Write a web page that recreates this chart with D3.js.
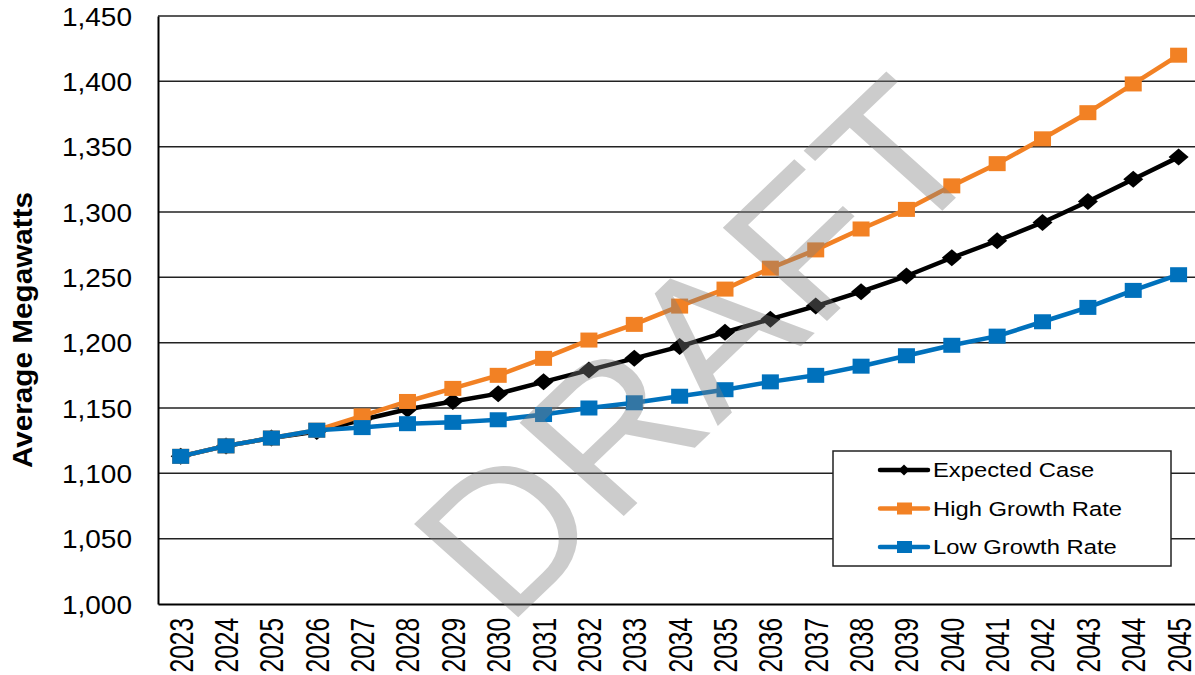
<!DOCTYPE html>
<html>
<head>
<meta charset="utf-8">
<script src="https://cdn.jsdelivr.net/npm/d3@7"></script>
<style>
  body { margin: 0; background: #fff; }
  svg { display: block; font-family: "Liberation Sans", Arial, sans-serif; }
</style>
</head>
<body>
<svg id="chart" width="1195" height="675"></svg>
<script>
const years = d3.range(2023, 2046).map(String);
const expectedCase = [1113, 1121, 1127, 1132, 1141, 1149, 1155, 1161, 1170, 1179, 1188, 1197, 1208, 1218, 1228, 1239, 1251, 1265, 1278, 1292, 1308, 1325, 1342];
const highGrowth = [1113, 1121, 1127, 1133, 1144, 1155, 1165, 1175, 1188, 1202, 1214, 1228, 1241, 1257, 1271, 1287, 1302, 1320, 1337, 1356, 1376, 1398, 1420];
const lowGrowth = [1113, 1121, 1127, 1133, 1135, 1138, 1139, 1141, 1145, 1150, 1154, 1159, 1164, 1170, 1175, 1182, 1190, 1198, 1205, 1216, 1227, 1240, 1252];
const yTicks = [1000, 1050, 1100, 1150, 1200, 1250, 1300, 1350, 1400, 1450];

const series = [
  { name: "Expected Case", values: expectedCase, color: "#000000", marker: "diamond" },
  { name: "High Growth Rate", values: highGrowth, color: "#f28124", marker: "square" },
  { name: "Low Growth Rate", values: lowGrowth, color: "#0071bc", marker: "square" },
];

const svg = d3.select("#chart");
const plotLeft = 158, plotTop = 16, plotBottom = 604;
const bandW = 45.36;

const x = d3.scaleBand().domain(years).range([plotLeft, plotLeft + bandW * years.length]);
const y = d3.scaleLinear().domain([1000, 1450]).range([plotBottom, plotTop]);

// gridlines
svg.append("g")
  .selectAll("line")
  .data(yTicks.slice(1))
  .enter()
  .append("line")
  .attr("x1", plotLeft)
  .attr("x2", 1195)
  .attr("y1", (d) => y(d))
  .attr("y2", (d) => y(d))
  .attr("stroke", "#222")
  .attr("stroke-width", 1.5);

// y axis (labels slightly widened like the original)
const yAxis = svg.append("g")
  .attr("transform", `translate(${plotLeft},0)`)
  .call(d3.axisLeft(y).tickValues(yTicks).tickFormat(d3.format(",")).tickSize(0));
yAxis.select(".domain").attr("stroke", "#000").attr("stroke-width", 2);
yAxis.selectAll("text")
  .attr("font-size", 25)
  .attr("fill", "#000")
  .attr("font-family", "Liberation Sans, Arial, sans-serif")
  .attr("x", -26 / 1.12)
  .attr("dy", "0.36em")
  .attr("transform", "scale(1.12,1)");

// x axis
const xAxis = svg.append("g")
  .attr("transform", `translate(0,${plotBottom})`)
  .call(d3.axisBottom(x).tickSize(0).tickPadding(0));
xAxis.select(".domain").attr("stroke", "#000").attr("stroke-width", 2);
xAxis.selectAll("text")
  .attr("font-size", 24.5)
  .attr("fill", "#000")
  .attr("font-family", "Liberation Sans, Arial, sans-serif")
  .attr("text-anchor", "end")
  .attr("transform", "rotate(-90) scale(1,1.36)")
  .attr("x", -14)
  .attr("y", 0)
  .attr("dy", "0.358em");

// y label
svg.append("text")
  .attr("transform", "translate(32,330) rotate(-90) scale(1.1,1)")
  .attr("text-anchor", "middle")
  .attr("font-size", 27)
  .attr("font-weight", "bold")
  .attr("fill", "#000")
  .text("Average Megawatts");

const cx = (i) => x(years[i]) + x.bandwidth() / 2;
const line = d3.line().x((d, i) => cx(i)).y((d) => y(d));

function drawMarker(g, s, px, py, w, h) {
  if (s.marker === "diamond") {
    g.append("path")
      .attr("d", `M${px},${py - h}L${px + w},${py}L${px},${py + h}L${px - w},${py}Z`)
      .attr("fill", s.color);
  } else {
    g.append("rect")
      .attr("x", px - w)
      .attr("y", py - h)
      .attr("width", w * 2)
      .attr("height", h * 2)
      .attr("fill", s.color);
  }
}

series.forEach((s) => {
  const g = svg.append("g");
  g.append("path")
    .datum(s.values)
    .attr("d", line)
    .attr("fill", "none")
    .attr("stroke", s.color)
    .attr("stroke-width", 4.5)
    .attr("stroke-linejoin", "round");
  s.values.forEach((v, i) => {
    if (s.marker === "diamond") drawMarker(g, s, cx(i), y(v), 10, 8.5);
    else drawMarker(g, s, cx(i), y(v), 8.5, 7.5);
  });
});

// legend
const legend = svg.append("g");
legend.append("rect")
  .attr("x", 833).attr("y", 451).attr("width", 338).attr("height", 115)
  .attr("fill", "#fff").attr("stroke", "#222").attr("stroke-width", 1.5);
series.forEach((s, i) => {
  const ly = 470 + i * 38.5;
  legend.append("line")
    .attr("x1", 880).attr("x2", 928).attr("y1", ly).attr("y2", ly)
    .attr("stroke", s.color).attr("stroke-width", 4.5).attr("stroke-linecap", "round");
  if (s.marker === "diamond") drawMarker(legend, s, 904, ly, 5.5, 5.5);
  else drawMarker(legend, s, 904.5, ly, 7.5, 6);
  legend.append("text")
    .attr("transform", `translate(933,${ly}) scale(1.22,1)`)
    .attr("dy", "0.36em")
    .attr("font-size", 19.5).attr("fill", "#000")
    .text(s.name);
});

// watermark
svg.append("text")
  .attr("transform", "translate(750,395) scale(1.08,1) rotate(-46)")
  .attr("text-anchor", "middle")
  .attr("font-size", 195)
  .attr("fill", "#808080")
  .attr("fill-opacity", 0.4)
  .text("DRAFT");
</script>
</body>
</html>
